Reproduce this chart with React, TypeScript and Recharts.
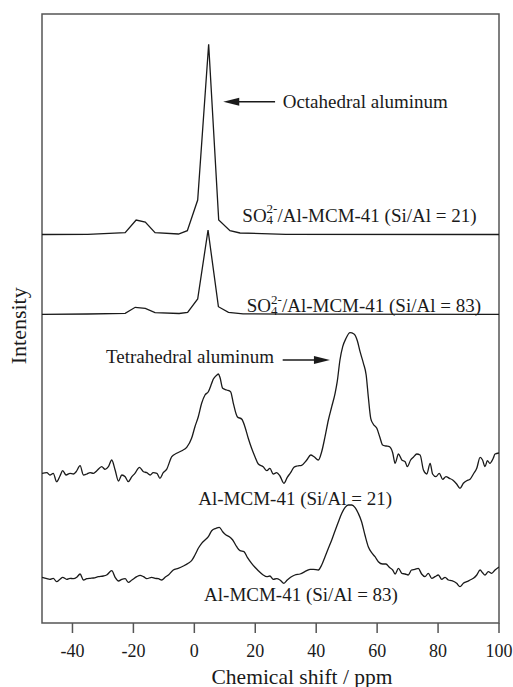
import React from 'react';
import { LineChart, Line, XAxis, YAxis, ReferenceDot, ReferenceLine, ReferenceArea, Label } from 'recharts';

const FONT = '"Liberation Serif", "Times New Roman", Times, serif';
const INK = '#1a1a1a';
const FRAME = '#555';

const xTicks = [-40, -20, 0, 20, 40, 60, 80, 100];

// SO4(2-)/Al-MCM-41 (Si/Al = 21)
const so4Si21Shift = [-50, -35, -22.7, -19.1, -16.1, -12.9, -5.2, -2.3, 1.1, 4.7, 8.0, 11.7, 15.0, 30, 100];
const so4Si21Intensity = [388.5, 388.7, 390.3, 403, 401, 390.3, 389, 392.3, 423, 578.7, 403, 392.3, 390, 388.7, 388.5];

// SO4(2-)/Al-MCM-41 (Si/Al = 83)
const so4Si83Shift = [-50, -35, -22.7, -19.4, -16.1, -12.9, -5, -2.2, 1.1, 4.5, 7.9, 11.2, 16, 30, 100];
const so4Si83Intensity = [308.7, 309, 309.7, 315.7, 314.7, 310.3, 309.5, 310.7, 324, 393, 316.3, 310.7, 309.2, 308.8, 308.7];

// Al-MCM-41 (Si/Al = 21)
const alSi21Shift = [
  -50, -48.4, -47.4, -46.3, -45.2, -44.1, -43.2, -42.1, -40.8, -39.7, -38.8, -37.5, -36.4, -35.3, -34.2, -33.1,
  -32.0, -30.4, -29.3, -28.2, -27.1, -26.0, -24.9, -23.8, -22.7, -21.7, -20.5, -19.5, -18.0, -16.7, -15.6, -14.5,
  -13.5, -12.3, -11.3, -10.2, -9.1, -7.4, -5.8, -4.1, -2.5, -0.9, 0.2, 1.3, 2.4, 3.5, 4.6, 5.7, 6.2, 7.4, 7.9,
  8.4, 9.3, 10.6, 11.9, 12.8, 14.1, 15.6, 16.6, 17.7, 18.8, 19.9, 21.0, 22.6, 23.8, 24.8, 25.9, 27.0, 28.1, 29.4,
  30.5, 31.6, 32.7, 33.8, 35.2, 36.9, 38.2, 39.3, 40.7, 41.8, 42.9, 44.0, 45.1, 46.2, 46.9, 47.8, 48.7, 49.8, 51.1,
  52.4, 53.5, 54.4, 55.5, 56.4, 57.1, 57.9, 58.7, 59.9, 60.9, 61.8, 62.9, 64.0, 65.1, 65.9, 67.0, 68.1, 69.2, 69.9,
  71.0, 71.9, 73.0, 74.1, 75.2, 76.3, 77.4, 78.2, 79.3, 80.4, 81.5, 82.6, 83.7, 84.8, 86.1, 87.2, 88.3, 89.4, 90.5,
  91.6, 92.7, 93.8, 94.6, 95.4, 96.2, 97.0, 98.1, 98.7, 100,
];
const alSi21Intensity = [
  149.7, 150.3, 148, 149.7, 141.3, 147, 152.3, 148, 149.7, 149, 151.3, 157.3, 148, 149, 150.3, 149.7,
  152.3, 156.3, 153.7, 156.3, 163, 153, 142, 148, 146.3, 141.3, 146.3, 149.7, 155.7, 151.3, 150.3, 148,
  150.3, 149.7, 144.7, 150.3, 153.7, 166.3, 169.7, 172.3, 175.7, 184.7, 196.3, 206.3, 219.7, 228, 231.3, 239.7, 243.7, 248, 249,
  245.7, 234.7, 233, 231.3, 219.7, 206.3, 203.7, 196.3, 184.7, 174.7, 166.3, 159, 156.3, 152.3, 154.7, 149, 150.3, 147, 139.7,
  145.7, 150.3, 155.7, 157, 157.7, 163, 168, 166.3, 163, 171.3, 186.3, 203, 216.3, 229.7, 241.3, 263, 276.3, 284.7, 290.3,
  289, 282.3, 271.3, 259.7, 248, 226.3, 204.7, 199, 194.7, 185.7, 178, 177, 176.3, 170.3, 159.7, 169, 163, 161.3, 156.3,
  163, 165.7, 169, 168, 153, 149, 159.7, 149, 146.3, 149.7, 143.7, 146.3, 144.7, 143, 139, 134.7, 139.7, 142.3, 143.7,
  149, 154.7, 165.7, 163, 156.3, 162.3, 159.7, 164.7, 169, 170,
];

// Al-MCM-41 (Si/Al = 83)
const alSi83Shift = [
  -50, -48.4, -47.4, -46.3, -45.2, -44.1, -43.2, -41.9, -40.8, -39.7, -38.6, -37.5, -36.4, -35.3, -34.2, -33.1,
  -31.5, -29.9, -28.8, -27.1, -26.0, -24.9, -23.8, -22.7, -21.7, -20.5, -18.9, -17.8, -16.7, -15.6, -14.0, -12.9,
  -11.8, -10.7, -9.6, -8.5, -6.9, -5.3, -3.6, -2.0, -0.9, 0.2, 1.3, 2.4, 3.5, 4.6, 5.7, 7.1, 8.2, 9.3, 10.4, 11.5,
  12.6, 13.9, 15.0, 16.3, 17.4, 18.8, 19.9, 21.0, 22.6, 23.8, 24.8, 25.9, 27.0, 28.1, 29.4, 30.5, 31.6, 33.0, 34.7,
  36.9, 38.0, 39.1, 40.7, 41.8, 42.9, 44.0, 45.1, 46.2, 47.3, 48.4, 49.5, 50.5, 51.7, 52.7, 53.8, 54.9, 56.0, 57.1,
  58.2, 59.3, 60.4, 61.8, 62.9, 64.0, 65.1, 65.9, 67.0, 68.1, 69.2, 70.2, 71.3, 72.4, 73.5, 74.6, 75.7, 76.8, 77.9,
  79.0, 80.1, 81.2, 82.3, 83.4, 84.5, 86.1, 87.2, 88.3, 89.4, 90.5, 91.6, 92.7, 93.8, 94.6, 95.4, 96.5, 97.6, 98.7, 100,
];
const alSi83Intensity = [
  45.7, 44.3, 43.7, 44.7, 41.3, 43.7, 45.7, 43.7, 44.7, 44.3, 45.7, 49, 43, 44.3, 44.7, 45,
  46.3, 47, 48, 52.3, 45.7, 42, 43.7, 44.3, 40.7, 43, 46.3, 47.7, 46.3, 44.3, 45.7, 44.7,
  44.3, 43, 45.7, 48, 53, 54.7, 57, 59.7, 62.3, 68, 74.7, 79.7, 83, 86.3, 92.3, 94.7, 95.7, 91.3, 88, 86.3,
  83, 76.3, 72.3, 71.3, 65.7, 59.7, 55.7, 52.3, 48, 46.3, 47, 43.7, 44.3, 43, 39.7, 43, 45.7, 48, 49,
  52.3, 53.7, 53.7, 53, 58, 66.3, 74.7, 83, 92.3, 101.3, 109.7, 115.7, 118, 118, 115.7, 109.7, 101.3, 88, 76.3,
  70.3, 66.3, 61.3, 59, 59, 55.7, 53, 49, 54.7, 49.7, 49, 48, 53, 53.7, 54.7, 49, 46.3, 49.7, 44.7,
  46.3, 48, 43.7, 45.7, 43, 42.3, 39.7, 36.3, 39.7, 41.3, 43, 44.7, 48, 53, 50.3, 48, 51.3, 49.7, 53, 56,
];

const toPoints = (xs: number[], ys: number[]) => xs.map((x, i) => ({ x, y: ys[i] }));

const so4Si21Data = toPoints(so4Si21Shift, so4Si21Intensity);
const so4Si83Data = toPoints(so4Si83Shift, so4Si83Intensity);
const alSi21Data = toPoints(alSi21Shift, alSi21Intensity);
const alSi83Data = toPoints(alSi83Shift, alSi83Intensity);

const Y_DOMAIN: [number, number] = [0, 609];
const X_DOMAIN: [number, number] = [-50, 100];

const plainText = (content: string) => (p: any) => (
  <text x={p.cx} y={p.cy} fontFamily={FONT} fontSize={19} fill={INK}>
    {content}
  </text>
);

const so4Text = (ratio: string) => (p: any) => (
  <text x={p.cx} y={p.cy} fontFamily={FONT} fontSize={19} fill={INK}>
    SO
    <tspan fontSize={13} dy={2.5}>4</tspan>
    <tspan fontSize={13} dx={-6.5} dy={-11}>2-</tspan>
    <tspan dy={8.5}>{`/Al-MCM-41 (Si/Al = ${ratio})`}</tspan>
  </text>
);

const yTitle = (p: any) => {
  const cx = p.cx - 16;
  const cy = p.cy;
  return (
    <text
      x={cx}
      y={cy}
      transform={`rotate(-90 ${cx} ${cy})`}
      textAnchor="middle"
      fontFamily={FONT}
      fontSize={22}
      fill={INK}
    >
      Intensity
    </text>
  );
};

const arrowShape = (p: any) => {
  const { x1, y1, x2, y2 } = p;
  const dir = x2 > x1 ? 1 : -1;
  const len = 16;
  const half = 4;
  return (
    <g>
      <line x1={x1} y1={y1} x2={x2 - dir * len * 0.6} y2={y2} stroke={INK} strokeWidth={1.5} />
      <polygon points={`${x2},${y2} ${x2 - dir * len},${y2 - half} ${x2 - dir * len},${y2 + half}`} fill={INK} />
    </g>
  );
};

const XTitle = (props: any) => {
  const vb = props.viewBox;
  return (
    <text x={vb.x + 260} y={vb.y + 61} textAnchor="middle" fontFamily={FONT} fontSize={21.5} fill={INK}>
      Chemical shift / ppm
    </text>
  );
};

export default function App() {
  return (
    <div style={{ position: 'absolute', left: 0, top: 0, width: 513, height: 687, overflow: 'hidden' }}>
      <style>{`html,body{overflow:hidden} .recharts-surface{overflow:visible}`}</style>
      <LineChart width={513} height={687} margin={{ top: 14, right: 14, bottom: 0, left: 42 }}>
        <XAxis
          dataKey="x"
          type="number"
          domain={X_DOMAIN}
          allowDataOverflow
          ticks={xTicks}
          interval={0}
          tickSize={10}
          tickMargin={11}
          height={64}
          axisLine={false}
          tickLine={{ stroke: FRAME, strokeWidth: 1.5 }}
          tick={{ fontSize: 18, fill: INK, fontFamily: FONT }}
        >
          <Label content={XTitle} />
        </XAxis>
        <YAxis type="number" domain={Y_DOMAIN} allowDataOverflow width={0} tick={false} tickLine={false} axisLine={false} />

        <ReferenceArea
          x1={X_DOMAIN[0]}
          x2={X_DOMAIN[1]}
          y1={Y_DOMAIN[0]}
          y2={Y_DOMAIN[1]}
          fill="none"
          fillOpacity={0}
          stroke={FRAME}
          strokeWidth={1.5}
          ifOverflow="visible"
        />

        <Line data={so4Si21Data} dataKey="y" type="linear" stroke={INK} strokeWidth={1.3} dot={false} isAnimationActive={false} />
        <Line data={so4Si83Data} dataKey="y" type="linear" stroke={INK} strokeWidth={1.3} dot={false} isAnimationActive={false} />
        <Line data={alSi21Data} dataKey="y" type="monotone" stroke={INK} strokeWidth={1.3} dot={false} isAnimationActive={false} />
        <Line data={alSi83Data} dataKey="y" type="monotone" stroke={INK} strokeWidth={1.3} dot={false} isAnimationActive={false} />

        <ReferenceLine segment={[{ x: 26.5, y: 521.3 }, { x: 9.5, y: 521.3 }]} shape={arrowShape} />
        <ReferenceLine segment={[{ x: 29.0, y: 263 }, { x: 44.5, y: 263 }]} shape={arrowShape} />

        <ReferenceDot x={29.0} y={515.5} r={0} ifOverflow="visible" shape={plainText('Octahedral aluminum')} />
        <ReferenceDot x={15.75} y={401.3} r={0} ifOverflow="visible" shape={so4Text('21')} />
        <ReferenceDot x={17.2} y={311} r={0} ifOverflow="visible" shape={so4Text('83')} />
        <ReferenceDot x={-29.0} y={259.7} r={0} ifOverflow="visible" shape={plainText('Tetrahedral aluminum')} />
        <ReferenceDot x={1.3} y={118.5} r={0} ifOverflow="visible" shape={plainText('Al-MCM-41 (Si/Al = 21)')} />
        <ReferenceDot x={3.2} y={22} r={0} ifOverflow="visible" shape={plainText('Al-MCM-41 (Si/Al = 83)')} />
        <ReferenceDot x={-50} y={297.2} r={0} ifOverflow="visible" shape={yTitle} />
      </LineChart>
    </div>
  );
}
